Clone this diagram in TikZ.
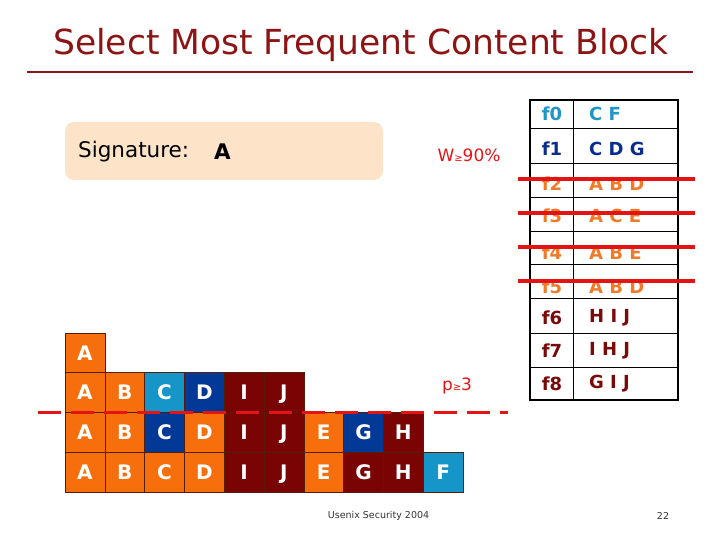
\documentclass[tikz,border=0pt]{standalone}
\usepackage{fontspec}
\setmainfont{DejaVu Sans}
\definecolor{cOr}{RGB}{247,111,12}
\definecolor{cTeal}{RGB}{22,150,200}
\definecolor{cNavy}{RGB}{2,56,150}
\definecolor{cDred}{RGB}{122,4,4}
\definecolor{tOr}{RGB}{240,122,40}
\definecolor{tTeal}{RGB}{30,150,200}
\definecolor{tNavy}{RGB}{10,45,140}
\definecolor{tDred}{RGB}{122,10,10}
\definecolor{titleRed}{RGB}{140,20,20}
\definecolor{lineRed}{RGB}{228,20,20}
\definecolor{peach}{RGB}{253,227,200}
\definecolor{cellLine}{RGB}{80,30,10}
\tikzset{
  cell/.style={draw=cellLine, line width=0.6pt, minimum width=39.8pt, minimum height=39.75pt,
    inner sep=0pt, text=white, font=\fontsize{20}{20}\selectfont\bfseries, text height=14.6pt, text depth=0pt},
  flabel/.style={font=\fontsize{18}{18}\selectfont\bfseries, inner sep=0pt},
  fcont/.style={font=\fontsize{18}{18}\selectfont\bfseries, inner sep=0pt, anchor=west},
  redtxt/.style={text=lineRed, font=\fontsize{17}{17}\selectfont, inner sep=0pt},
  strike/.style={lineRed, line width=4pt},
}
\newcommand{\smallge}{{\fontsize{10}{10}\selectfont ≥}}
\begin{document}
\begin{tikzpicture}[x=1pt,y=-1pt]
\useasboundingbox (0,0) rectangle (720,540);
% title
\node[anchor=base, text=titleRed, font=\fontsize{34.5}{35}\selectfont, inner sep=0pt] (title) at (361,55) {Select Most Frequent Content Block};
\draw[titleRed, line width=2pt] (27,72) -- (693,72);
% signature box
\node[fill=peach, rounded corners=9pt, minimum width=318pt, minimum height=58pt, inner sep=0pt] (sig) at (224,151) {};
\node[anchor=west, font=\fontsize{21.5}{22}\selectfont, inner sep=0pt] (sigtxt) at (78,152) {Signature:};
\node[anchor=west, font=\fontsize{21.5}{22}\selectfont\bfseries, inner sep=0pt] (sigA) at (214,152) {A};
\node[redtxt] (w) at (469,155) {W\smallge 90\%};
% table grid
\foreach \yy in {128,163,197,231,264,298,333,367} \draw[line width=0.7pt] (530,\yy) -- (678,\yy);
\draw[line width=1pt] (573,100) -- (573,400);
\draw[line width=1.6pt] (530,100) rectangle (678,400);
% table text
\node[flabel, text=tTeal] (f0) at (552,114) {f0};
\node[fcont, text=tTeal] (f0c) at (589,114) {C F};
\node[flabel, text=tNavy] (f1) at (552,149) {f1};
\node[fcont, text=tNavy] (f1c) at (589,149) {C D G};
\node[flabel, text=tOr] (f2) at (552,184) {f2};
\node[fcont, text=tOr] (f2c) at (589,184) {A B D};
\node[flabel, text=tOr] (f3) at (552,216) {f3};
\node[fcont, text=tOr] (f3c) at (589,216) {A C E};
\node[flabel, text=tOr] (f4) at (552,253) {f4};
\node[fcont, text=tOr] (f4c) at (589,253) {A B E};
\node[flabel, text=tOr] (f5) at (552,287) {f5};
\node[fcont, text=tOr] (f5c) at (589,287) {A B D};
\node[flabel, text=tDred] (f6) at (552,318) {f6};
\node[fcont, text=tDred] (f6c) at (589,318) {H I J};
\node[flabel, text=tDred] (f7) at (552,351) {f7};
\node[fcont, text=tDred] (f7c) at (589,351) {I H J};
\node[flabel, text=tDred] (f8) at (552,384) {f8};
\node[fcont, text=tDred] (f8c) at (589,384) {G I J};
% strike lines
\foreach \yy in {179,213,247,281} \draw[strike] (518,\yy) -- (695,\yy);
% blocks
\node[cell, fill=cOr] (r1-0) at (84.9,352.9) {A};
\foreach \l/\c [count=\i from 0] in {A/cOr,B/cOr,C/cTeal,D/cNavy,I/cDred,J/cDred}
  \node[cell, fill=\c] (r2-\i) at (84.9+39.8*\i,392.6) {\l};
\foreach \l/\c [count=\i from 0] in {A/cOr,B/cOr,C/cNavy,D/cOr,I/cDred,J/cDred,E/cOr,G/cNavy,H/cDred}
  \node[cell, fill=\c] (r3-\i) at (84.9+39.8*\i,432.4) {\l};
\foreach \l/\c [count=\i from 0] in {A/cOr,B/cOr,C/cOr,D/cOr,I/cDred,J/cDred,E/cOr,G/cDred,H/cDred,F/cTeal}
  \node[cell, fill=\c] (r4-\i) at (84.9+39.8*\i,472.1) {\l};
% threshold
\draw[lineRed, line width=3.4pt, dash pattern=on 23pt off 10pt] (38,412.5) -- (508,412.5);
\node[redtxt] (p) at (457,386) {p\smallge 3};
% footer
\node[font=\fontsize{9.5}{10}\selectfont, text=black!80, inner sep=0pt] (foot) at (378.5,516) {Usenix Security 2004};
\node[font=\fontsize{9.5}{10}\selectfont, text=black!80, inner sep=0pt] (pg) at (663,516) {22};
\end{tikzpicture}
\end{document}
